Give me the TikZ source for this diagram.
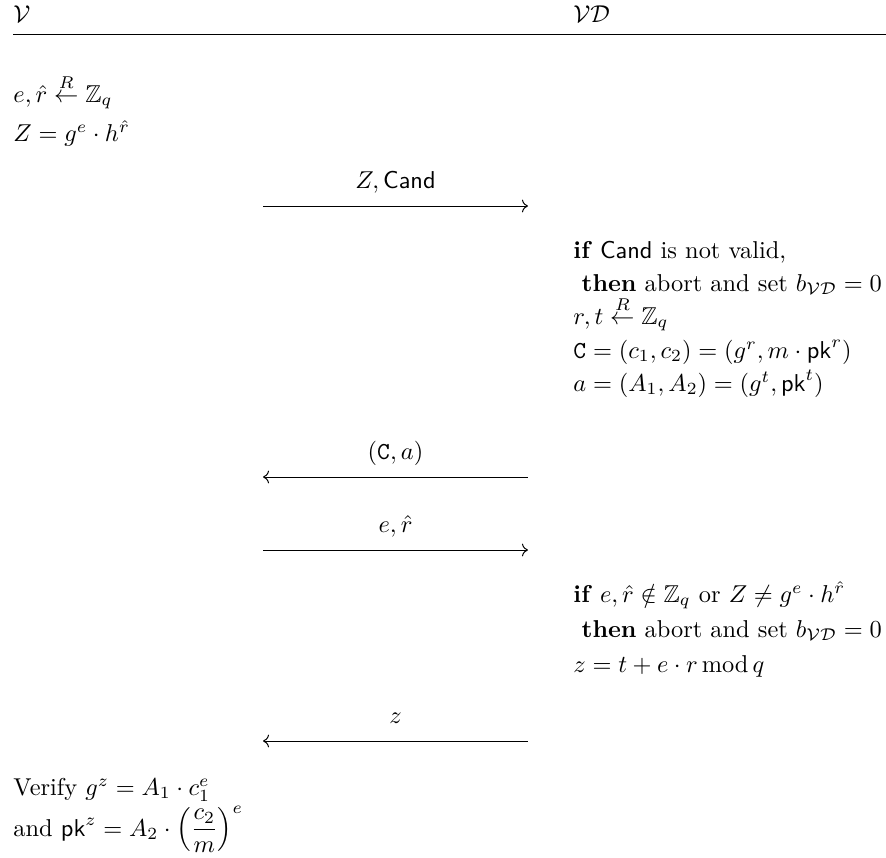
\documentclass[tikz,border=0pt]{standalone}
\usepackage{amsmath,amssymb}
\usepackage{tikz}
\usetikzlibrary{arrows.meta,positioning}
\newcommand{\rsample}{\overset{R}{\leftarrow}}
\newcommand{\vdbit}{b_{\mathcal{V}\mathcal{D}}}
\newcommand{\msgline}[4]{%
  \coordinate (#1l) at (263,#2);
  \coordinate (#1r) at (528,#2);
  \draw[#3] (#1l) -- node[midway,anchor=base,yshift=7pt] (#1lbl) {#4} (#1r);
}

\begin{document}
\begin{tikzpicture}[x=.41pt,y=-.41pt,txt/.style={anchor=base west,inner sep=0pt}]
    \useasboundingbox (0,0) rectangle (886,858);
    % parties
    \node[txt] (ver) at (13,22) {$\mathcal{V}$};
    \node[txt] (dev) at (573,22) {$\mathcal{V}\mathcal{D}$};
    \coordinate (rulel) at (13,34);
    \coordinate (ruler) at (886,34);
    \draw (rulel) -- (ruler);
    % verifier commits
    \node[txt] (vsmp) at (13,102) {$e,\hat{r} \rsample \mathbb{Z}_q$};
    \node[txt] (vcom) at (13,141) {$Z=g^{e}\cdot h^{\hat{r}}$};
    \msgline{m1}{206}{->}{$Z,\textsf{Cand}$}
    % device encrypts
    \node[txt] (chk1) at (573,258) {\textbf{if} \textsf{Cand} is not valid,};
    \node[txt] (chk2) at (573,291) {\ \textbf{then} abort and set $\vdbit=0$};
    \node[txt] (dsmp) at (573,324) {$r,t \rsample \mathbb{Z}_q$};
    \node[txt] (denc) at (573,358) {$\mathtt{C}=(c_1,c_2)=(g^{r},m\cdot\mathsf{pk}^{r})$};
    \node[txt] (dcom) at (573,391) {$a=(A_1,A_2)=(g^{t},\mathsf{pk}^{t})$};
    \msgline{m2}{477}{<-}{$(\mathtt{C},a)$}
    \msgline{m3}{550}{->}{$e,\hat{r}$}
    % device answers
    \node[txt] (chk3) at (573,602) {\textbf{if} $e,\hat{r}\notin\mathbb{Z}_q$ or $Z\neq g^{e}\cdot h^{\hat{r}}$};
    \node[txt] (chk4) at (573,637) {\ \textbf{then} abort and set $\vdbit=0$};
    \node[txt] (dresp) at (573,672) {$z=t+e\cdot r\operatorname{mod}q$};
    \msgline{m4}{741}{<-}{$z$}
    % verifier checks
    \node[txt] (vchk1) at (13,795) {Verify $g^{z}=A_1\cdot c_1^{e}$};
    \node[txt] (vchk2) at (13,836) {and $\mathsf{pk}^{z}=A_2\cdot\left(\dfrac{c_2}{m}\right)^{e}$};
\end{tikzpicture}
\end{document}
